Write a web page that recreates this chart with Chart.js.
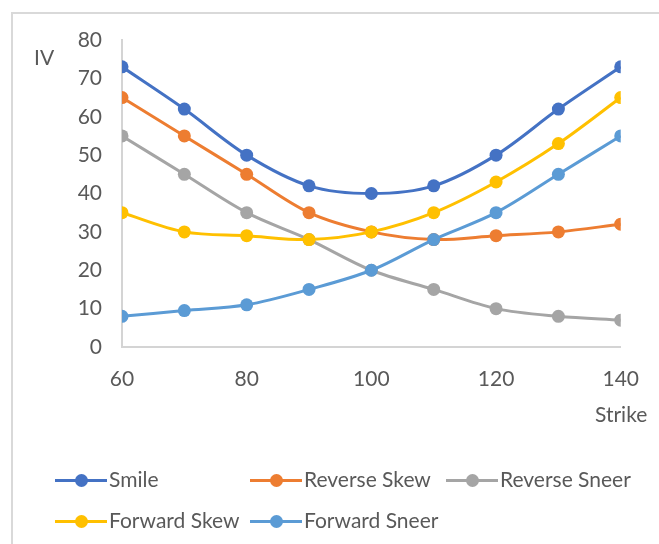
<!DOCTYPE html>
<html>
<head>
<meta charset="utf-8">
<script src="https://cdn.jsdelivr.net/npm/chart.js@4/dist/chart.umd.min.js"></script>
<style>
  html, body { margin: 0; padding: 0; background: #ffffff; overflow: hidden; }
  #wrap { position: relative; width: 659px; height: 544px; }
  #frame { position: absolute; left: 11px; top: 12px; width: 700px; height: 600px;
           border: 2px solid #d9d9d9; box-sizing: border-box; }
  canvas { position: absolute; left: 0; top: 0; }
  .lg { position: absolute; height: 20px; font-family: Lato, sans-serif; font-size: 21px;
        color: #595959; white-space: nowrap; }
  .lg .ln { position: absolute; left: 0; top: 9px; width: 52px; height: 3px; }
  .lg .dot { position: absolute; left: 19.5px; top: 4px; width: 13px; height: 13px; border-radius: 50%; }
  .lg .tx { position: absolute; left: 54px; top: -3px; line-height: 24px; }
</style>
</head>
<body>
<div id="wrap">
  <div id="frame"></div>
  <canvas id="c" width="659" height="544"></canvas>
  <div id="legend"></div>
</div>
<script>
// Strike prices on the horizontal axis
const strikes = [60, 70, 80, 90, 100, 110, 120, 130, 140];

// Implied volatility for each shape of the curve
const smile        = [73, 62, 50, 42, 40, 42, 50, 62, 73];
const reverseSkew  = [65, 55, 45, 35, 30, 28, 29, 30, 32];
const reverseSneer = [55, 45, 35, 28, 20, 15, 10, 8, 7];
const forwardSkew  = [35, 30, 29, 28, 30, 35, 43, 53, 65];
const forwardSneer = [8, 9.5, 11, 15, 20, 28, 35, 45, 55];

const seriesNames  = ['Smile', 'Reverse Skew', 'Reverse Sneer', 'Forward Skew', 'Forward Sneer'];
const seriesValues = [smile, reverseSkew, reverseSneer, forwardSkew, forwardSneer];
const seriesColors = ['#4472C4', '#ED7D31', '#A5A5A5', '#FFC000', '#5B9BD5'];

const FONT = 'Lato, sans-serif';
const TEXT = '#595959';

const datasets = seriesNames.map((name, i) => ({
  label: name,
  data: strikes.map((x, k) => ({ x: x, y: seriesValues[i][k] })),
  borderColor: seriesColors[i],
  backgroundColor: seriesColors[i],
  pointBackgroundColor: seriesColors[i],
  pointBorderColor: seriesColors[i],
  borderWidth: 3,
  pointRadius: 6.5,
  pointBorderWidth: 0,
  tension: 0.33,
  // later series sit on top
  order: seriesNames.length - i
}));

// axis captions drawn beside the axes
const axisCaptions = {
  id: 'axisCaptions',
  afterDraw(chart) {
    const ctx = chart.ctx;
    ctx.save();
    ctx.fillStyle = TEXT;
    ctx.font = '21px ' + FONT;
    ctx.textBaseline = 'middle';
    ctx.textAlign = 'left';
    ctx.fillText('IV', 34, 58);
    ctx.fillText('Strike', 595, 415);
    ctx.restore();
  }
};

new Chart(document.getElementById('c'), {
  type: 'line',
  data: { datasets },
  plugins: [axisCaptions],
  options: {
    responsive: false,
    animation: false,
    devicePixelRatio: 1,
    layout: { padding: { left: 0, top: 40, right: 31, bottom: 0 } },
    plugins: { legend: { display: false }, tooltip: { enabled: false } },
    scales: {
      x: {
        type: 'linear',
        min: 60, max: 140,
        afterFit(s) { s.height = 197; },
        grid: { display: false, drawTicks: false },
        border: { display: true, color: '#d4d4d4', width: 2 },
        ticks: { stepSize: 20, padding: 20, color: TEXT, font: { family: FONT, size: 21 } }
      },
      y: {
        min: 0, max: 80,
        afterFit(s) { s.width = 122; },
        grid: { display: false, drawTicks: false },
        border: { display: true, color: '#d4d4d4', width: 2 },
        ticks: { stepSize: 10, padding: 20, color: TEXT, font: { family: FONT, size: 21 } }
      }
    }
  }
});

// legend laid out in three columns
const legendPos = [[55, 470], [250, 470], [446, 470], [55, 511], [250, 511]];
const legend = document.getElementById('legend');
seriesNames.forEach((name, i) => {
  const item = document.createElement('div');
  item.className = 'lg';
  item.style.left = legendPos[i][0] + 'px';
  item.style.top = legendPos[i][1] + 'px';
  item.innerHTML = '<div class="ln" style="background:' + seriesColors[i] + '"></div>' +
                   '<div class="dot" style="background:' + seriesColors[i] + '"></div>' +
                   '<span class="tx"></span>';
  item.querySelector('.tx').textContent = name;
  legend.appendChild(item);
});
</script>
</body>
</html>
